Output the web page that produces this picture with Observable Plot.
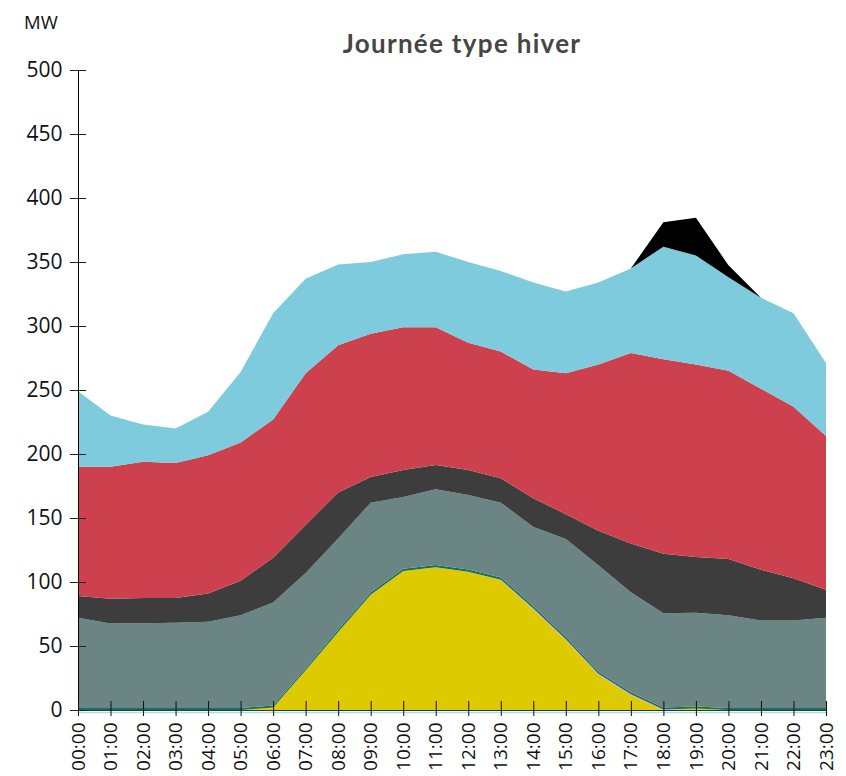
<!DOCTYPE html>
<html>
<head>
<meta charset="utf-8">
<script src="https://cdn.jsdelivr.net/npm/d3@7"></script>
<script src="https://cdn.jsdelivr.net/npm/@observablehq/plot@0.6"></script>
<style>
  body { margin: 0; background: #fff; }
  #wrap { position: relative; width: 846px; height: 776px; }
  #title { position: absolute; left: 462px; top: 30px; transform: translateX(-50%);
           font-family: Lato, "Open Sans", sans-serif; font-weight: 700; font-size: 26px;
           color: #464646; white-space: nowrap; line-height: 1; letter-spacing: 1.3px; }
  #unit { position: absolute; left: 24px; top: 11px; font-family: "Open Sans", sans-serif;
          font-size: 18.5px; color: #111; line-height: 1.2; }
  #chart { position: absolute; left: 0; top: 0; }
  #chart g[aria-label="y-axis tick label"] { font-size: 21px; }
  #chart g[aria-label="x-axis tick label"] { font-size: 19px; }
</style>
</head>
<body>
<div id="wrap">
  <div id="chart"></div>
  <div id="unit">MW</div>
  <div id="title">Journée type hiver</div>
</div>
<script>
const hours = ["00:00","01:00","02:00","03:00","04:00","05:00","06:00","07:00","08:00","09:00","10:00","11:00",
               "12:00","13:00","14:00","15:00","16:00","17:00","18:00","19:00","20:00","21:00","22:00","23:00"];
const yTicks = [0, 50, 100, 150, 200, 250, 300, 350, 400, 450, 500];

// Series (stacked from bottom to top), values in MW
const solaire     = [0,0,0,0,0,0,2,31,61,90,108.5,111.5,108,101.5,78.5,54.5,27.5,11.5,0,1.2,0,0,0,0];
const autres      = [0,0,0,0,0,0,0,0,0,0,0,0,0,0.3,0.8,0.8,0.8,0.8,0.3,0,0,0,0,0];
const bioenergies = [1.6,1.6,1.6,1.6,1.6,1.6,1.6,1.6,1.6,1.7,1.8,1.8,1.8,1.8,1.7,1.7,1.6,1.6,1.6,1.6,1.6,1.6,1.6,1.6];
const hydraulique = [70.4,65.9,66.1,66.6,67.4,72.4,80.4,74.4,71.4,70.3,56.2,59.2,58.2,58.4,62,76.5,83.1,78.1,73.6,73.2,72.4,68.4,68.4,70.4];
const thermique   = [17,19.5,19.8,19.3,22,27,35,37.5,36,20,21,19,19.5,19,22.5,19.5,27,38,46.5,43.5,44,39.5,33,22];
const nucleaire   = [101,103,106.5,105.5,108,108,108,118.5,115,112,111.5,107.5,99.5,99,100.5,110,130,149,152,150.5,147,141.5,134,120];
const importation = [59,40,29,27,34,55,83,74,63,56,57,59,63,63,68,64,64,66,88,85,73,71,73,57];
const pointe      = [0,0,0,0,0,0,0,0,0,0,0,0,0,0,0,0,0,0,19,29.5,9.5,0,0,0];

const seriesNames  = ["Solaire", "Autres", "Bioénergies", "Hydraulique", "Thermique", "Nucléaire", "Import", "Pointe"];
const seriesValues = [solaire, autres, bioenergies, hydraulique, thermique, nucleaire, importation, pointe];
const seriesColors = ["#ddca00", "#e9a0b8", "#17705f", "#6a8583", "#3d3d3d", "#cd414f", "#7ecbdd", "#000000"];

const data = [];
seriesNames.forEach((name, s) => {
  hours.forEach((h, i) => data.push({hour: i, label: h, series: name, value: seriesValues[s][i]}));
});
const hourIdx = hours.map((_, i) => i);

const plot = Plot.plot({
  width: 846,
  height: 776,
  marginLeft: 78,
  marginRight: 20,
  marginTop: 70,
  marginBottom: 66,
  style: {fontFamily: "'Open Sans', sans-serif", fontSize: "19px", color: "#111", background: "transparent"},
  x: {domain: [0, hours.length - 1]},
  y: {domain: [0, 500]},
  color: {domain: seriesNames, range: seriesColors},
  marks: [
    Plot.areaY(data, {x: "hour", y: "value", fill: "series", curve: "linear"}),
    Plot.ruleY([0], {stroke: "#a9dde8", strokeWidth: 1.5, dy: 2}),
    Plot.ruleY([0], {stroke: "#2b3b33", strokeWidth: 1}),
    Plot.ruleX([0], {stroke: "#000", strokeWidth: 1}),
    Plot.axisY({ticks: yTicks, tickSize: 16, dx: 8, tickFormat: () => "", label: null, stroke: "#222"}),
    Plot.axisY({ticks: yTicks, tickSize: 0, tickPadding: 16, label: null, fill: "#111"}),
    Plot.axisX({ticks: hourIdx, tickSize: 15, dy: -9, tickFormat: () => "", label: null, stroke: "#111"}),
    Plot.axisX({ticks: hourIdx, tickSize: 0, tickPadding: 12, tickRotate: -90, tickFormat: i => hours[i], label: null, fill: "#111"})
  ]
});
document.getElementById("chart").appendChild(plot);
</script>
</body>
</html>
